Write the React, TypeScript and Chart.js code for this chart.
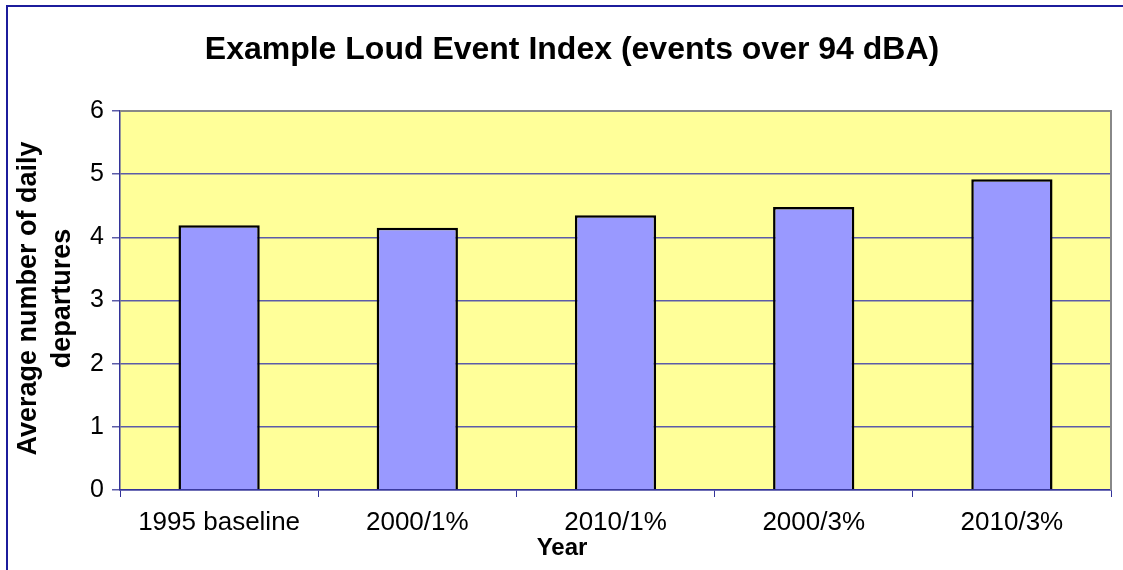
import React, { useEffect, useRef } from "react";
import { Chart, registerables } from "chart.js";

Chart.register(...registerables);

const categories: string[] = ["1995 baseline", "2000/1%", "2010/1%", "2000/3%", "2010/3%"];
const departures: number[] = [4.19, 4.15, 4.35, 4.48, 4.92];
const yTicks: number[] = [0, 1, 2, 3, 4, 5, 6];
const titleText = "Example Loud Event Index (events over 94 dBA)";
const yTitleLines: string[] = ["Average number of daily", "departures"];
const xTitleText = "Year";

const FONT = "'Liberation Sans', Arial, sans-serif";

const decorPlugin = {
  id: "decor",
  beforeDraw(chart: any) {
    const { ctx, chartArea } = chart;
    ctx.save();
    ctx.fillStyle = "#FFFF99";
    ctx.fillRect(chartArea.left, chartArea.top, chartArea.right - chartArea.left, chartArea.bottom - chartArea.top);
    ctx.restore();
  },
  beforeDatasetsDraw(chart: any) {
    const { ctx, chartArea } = chart;
    ctx.save();
    ctx.strokeStyle = "#888888";
    ctx.lineWidth = 2;
    ctx.beginPath();
    ctx.moveTo(chartArea.left, chartArea.top);
    ctx.lineTo(chartArea.right, chartArea.top);
    ctx.lineTo(chartArea.right, chartArea.bottom);
    ctx.stroke();
    ctx.restore();
  },
  afterDraw(chart: any) {
    const { ctx, chartArea } = chart;
    ctx.save();
    ctx.fillStyle = "#000";
    ctx.textAlign = "center";
    ctx.textBaseline = "middle";
    ctx.font = `bold 32px ${FONT}`;
    ctx.fillText(titleText, 572, 50);
    ctx.font = `bold 24px ${FONT}`;
    ctx.fillText(xTitleText, 562, 548);
    const cy = (chartArea.top + chartArea.bottom) / 2 - 2;
    ctx.font = `bold 27px ${FONT}`;
    ctx.translate(0, cy);
    ctx.rotate(-Math.PI / 2);
    ctx.fillText(yTitleLines[0], 0, 29);
    ctx.fillText(yTitleLines[1], 0, 63);
    ctx.restore();
  },
};

export default function App() {
  const canvasRef = useRef<HTMLCanvasElement | null>(null);

  useEffect(() => {
    if (!canvasRef.current) return;
    const chart = new Chart(canvasRef.current, {
      type: "bar",
      data: {
        labels: categories,
        datasets: [
          {
            label: "departures",
            data: departures,
            backgroundColor: "#9999FF",
            borderColor: "#000000",
            borderWidth: 2.5,
            barPercentage: 0.41,
            categoryPercentage: 1,
          },
        ],
      },
      options: {
        animation: false,
        responsive: false,
        maintainAspectRatio: false,
        layout: { padding: { top: 111, left: 0, right: 12, bottom: 0 } },
        plugins: {
          legend: { display: false },
          title: { display: false },
          tooltip: { enabled: false },
        },
        scales: {
          x: {
            offset: true,
            grid: {
              offset: true,
              drawOnChartArea: false,
              drawTicks: true,
              tickLength: 7,
              color: "#333399",
            },
            border: { display: true, color: "#333399", width: 1.5 },
            ticks: {
              color: "#000",
              font: { family: FONT, size: 26 },
              padding: 10,
              maxRotation: 0,
              autoSkip: false,
            },
            afterFit(scale: any) {
              scale.height = 80;
            },
          },
          y: {
            min: 0,
            max: 6,
            afterBuildTicks(scale: any) {
              scale.ticks = yTicks.map((v) => ({ value: v }));
            },
            grid: {
              color: "#5C5CA8",
              lineWidth: 1.5,
              drawTicks: true,
              tickLength: 8,
            },
            border: { display: true, color: "#333399", width: 1.5 },
            ticks: {
              color: "#000",
              font: { family: FONT, size: 25 },
              padding: 8,
            },
            afterFit(scale: any) {
              scale.width = 120;
            },
          },
        },
      },
      plugins: [decorPlugin],
    });
    return () => chart.destroy();
  }, []);

  return (
    <div style={{ position: "fixed", left: 0, top: 0, width: 1123, height: 570, overflow: "hidden", background: "#fff" }}>
      <div
        style={{
          position: "absolute",
          left: 6,
          top: 5,
          width: 1300,
          height: 800,
          border: "2px solid #1c1c9c",
        }}
      />
      <canvas ref={canvasRef} width={1123} height={570} style={{ position: "absolute", left: 0, top: 0, width: 1123, height: 570 }} />
    </div>
  );
}
